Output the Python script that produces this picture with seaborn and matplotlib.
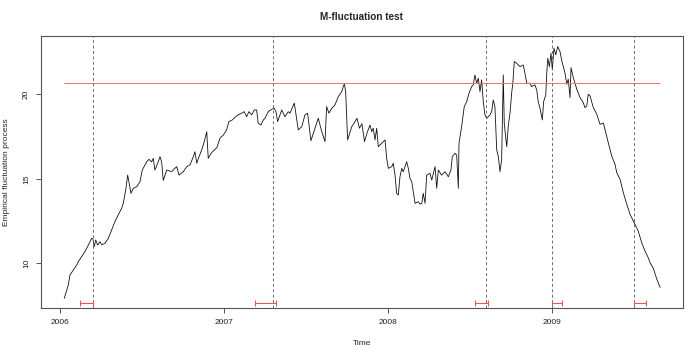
import numpy as np
import pandas as pd
import matplotlib
matplotlib.use("Agg")
import matplotlib.pyplot as plt
import seaborn as sns

# empirical fluctuation process
time = [
    2006.026, 2006.051, 2006.061, 2006.081, 2006.102, 2006.112, 2006.132, 2006.152, 2006.173, 2006.193,
    2006.201, 2006.209, 2006.218, 2006.230, 2006.244, 2006.254, 2006.274, 2006.295, 2006.315, 2006.335,
    2006.355, 2006.376, 2006.386, 2006.401, 2006.413, 2006.433, 2006.447, 2006.468, 2006.488, 2006.502,
    2006.529, 2006.543, 2006.559, 2006.569, 2006.579, 2006.596, 2006.610, 2006.620, 2006.630, 2006.651,
    2006.681, 2006.701, 2006.712, 2006.726, 2006.752, 2006.773, 2006.793, 2006.813, 2006.823, 2006.834,
    2006.848, 2006.864, 2006.880, 2006.895, 2006.904, 2006.921, 2006.941, 2006.957, 2006.976, 2006.996,
    2007.016, 2007.030, 2007.051, 2007.071, 2007.087, 2007.108, 2007.124, 2007.138, 2007.152, 2007.169,
    2007.185, 2007.199, 2007.209, 2007.226, 2007.240, 2007.250, 2007.270, 2007.291, 2007.307, 2007.317,
    2007.327, 2007.352, 2007.372, 2007.392, 2007.402, 2007.429, 2007.453, 2007.474, 2007.494, 2007.510,
    2007.530, 2007.555, 2007.575, 2007.596, 2007.616, 2007.626, 2007.640, 2007.657, 2007.677, 2007.697,
    2007.718, 2007.727, 2007.734, 2007.742, 2007.754, 2007.779, 2007.799, 2007.811, 2007.826, 2007.841,
    2007.857, 2007.872, 2007.890, 2007.901, 2007.910, 2007.921, 2007.931, 2007.941, 2007.962, 2007.982,
    2007.992, 2008.002, 2008.023, 2008.032, 2008.043, 2008.053, 2008.063, 2008.073, 2008.084, 2008.093,
    2008.104, 2008.114, 2008.124, 2008.134, 2008.145, 2008.154, 2008.165, 2008.185, 2008.195, 2008.206,
    2008.215, 2008.226, 2008.236, 2008.256, 2008.267, 2008.287, 2008.297, 2008.307, 2008.327, 2008.348,
    2008.368, 2008.384, 2008.392, 2008.409, 2008.419, 2008.429, 2008.433, 2008.449, 2008.465, 2008.480,
    2008.494, 2008.510, 2008.520, 2008.530, 2008.541, 2008.551, 2008.561, 2008.571, 2008.581, 2008.591,
    2008.602, 2008.622, 2008.632, 2008.642, 2008.652, 2008.663, 2008.673, 2008.683, 2008.693, 2008.703,
    2008.709, 2008.713, 2008.724, 2008.734, 2008.744, 2008.754, 2008.762, 2008.770, 2008.785, 2008.805,
    2008.825, 2008.835, 2008.846, 2008.866, 2008.876, 2008.896, 2008.907, 2008.916, 2008.927, 2008.941,
    2008.949, 2008.962, 2008.968, 2008.974, 2008.984, 2008.994, 2009.002, 2009.012, 2009.023, 2009.035,
    2009.049, 2009.059, 2009.079, 2009.090, 2009.099, 2009.110, 2009.116, 2009.130, 2009.151, 2009.171,
    2009.191, 2009.201, 2009.212, 2009.221, 2009.232, 2009.252, 2009.273, 2009.293, 2009.313, 2009.323,
    2009.343, 2009.364, 2009.384, 2009.395, 2009.415, 2009.435, 2009.456, 2009.476, 2009.486, 2009.506,
    2009.526, 2009.547, 2009.567, 2009.584, 2009.598, 2009.618, 2009.638, 2009.659,
]
fluct = [
    7.93, 8.72, 9.31, 9.60, 9.90, 10.10, 10.40, 10.69, 11.08, 11.48,
    11.45, 10.98, 11.38, 11.08, 11.28, 11.10, 11.18, 11.48, 11.97, 12.46,
    12.86, 13.25, 13.55, 14.34, 15.22, 14.14, 14.44, 14.53, 14.83, 15.52,
    16.01, 16.15, 16.00, 16.21, 15.52, 15.92, 16.31, 16.00, 14.90, 15.52,
    15.42, 15.62, 15.72, 15.22, 15.42, 15.72, 15.82, 16.31, 16.60, 15.92,
    16.31, 16.70, 17.20, 17.79, 16.21, 16.51, 16.70, 16.85, 17.40, 17.59,
    17.89, 18.38, 18.48, 18.67, 18.78, 18.88, 18.97, 18.67, 18.97, 18.78,
    19.07, 19.07, 18.28, 18.18, 18.48, 18.58, 18.97, 19.11, 19.17, 18.97,
    18.38, 19.07, 18.67, 18.97, 18.88, 19.47, 17.89, 18.08, 18.78, 18.88,
    17.25, 17.99, 18.58, 17.79, 17.20, 19.27, 18.88, 19.17, 19.37, 19.86,
    20.15, 20.45, 20.61, 20.15, 17.30, 18.08, 18.38, 18.58, 17.99, 18.25,
    17.20, 17.70, 18.18, 17.79, 17.99, 17.30, 17.99, 16.90, 17.10, 17.30,
    16.21, 15.62, 15.72, 15.92, 15.22, 14.14, 14.04, 15.12, 15.62, 15.42,
    15.72, 16.01, 15.62, 15.03, 14.83, 14.24, 13.55, 13.65, 13.50, 13.55,
    14.14, 13.55, 15.22, 15.32, 14.93, 15.72, 14.44, 15.52, 15.22, 15.42,
    15.12, 15.52, 16.31, 16.51, 16.40, 14.44, 17.10, 18.08, 19.27, 19.56,
    20.06, 20.45, 20.55, 21.14, 20.65, 20.95, 20.15, 20.85, 19.56, 18.78,
    18.58, 18.78, 18.97, 19.66, 19.27, 16.70, 16.31, 15.42, 16.11, 21.14,
    18.28, 17.89, 16.90, 18.18, 18.88, 20.06, 20.75, 21.93, 21.83, 21.63,
    21.73, 21.24, 20.65, 20.65, 20.45, 20.55, 20.25, 19.56, 19.17, 18.48,
    19.56, 19.96, 21.24, 22.13, 21.63, 22.43, 21.44, 22.72, 22.33, 22.82,
    22.52, 22.00, 21.26, 20.59, 20.89, 19.80, 21.57, 20.98, 20.30, 19.80,
    19.50, 19.21, 19.30, 20.00, 19.90, 19.21, 18.82, 18.22, 18.30, 17.93,
    17.14, 16.35, 15.86, 15.36, 14.97, 14.18, 13.49, 12.90, 12.70, 12.30,
    11.90, 11.22, 10.73, 10.40, 10.04, 9.70, 9.10, 8.58,
]
assert len(time) == len(fluct)

boundary = 20.65
breaks = [2006.203, 2007.300, 2008.600, 2009.000, 2009.500]
ci_lower = [2006.120, 2007.190, 2008.530, 2009.000, 2009.500]
ci_upper = [2006.203, 2007.320, 2008.610, 2009.060, 2009.575]
ci_level = 7.64
xticks = [2006, 2007, 2008, 2009]
yticks = [10, 15, 20]

sns.set_style("ticks")
plt.rcParams['font.family'] = ['Liberation Sans', 'DejaVu Sans']

df = pd.DataFrame({"Time": time, "process": fluct})

fig = plt.figure(figsize=(7, 3.52), dpi=100)
ax = fig.add_axes([0.058, 0.125, 0.918, 0.773])

sns.lineplot(data=df, x="Time", y="process", color="#111111", linewidth=0.6,
             estimator=None, sort=False, ax=ax)
ax.hlines(boundary, min(time), max(time), color="#ee6f6f", linewidth=0.7)
for b in breaks:
    ax.axvline(b, color="#555555", linewidth=0.6, linestyle=(0, (3.5, 3)))

lo = np.array(breaks) - np.array(ci_lower)
hi = np.array(ci_upper) - np.array(breaks)
ax.errorbar(breaks, [ci_level] * len(breaks), xerr=[lo, hi], fmt="none",
            ecolor="#ee5555", elinewidth=0.8, capsize=2.2, capthick=0.8)

ax.set_xlim(2005.882, 2009.80)
ax.set_ylim(7.36, 23.45)
ax.set_xticks(xticks)
ax.set_yticks(yticks)
ax.set_xticklabels([str(t) for t in xticks])
ax.set_yticklabels([str(t) for t in yticks])
ax.set_xlabel("")
ax.set_ylabel("")
for s in ax.spines.values():
    s.set_visible(True)
    s.set_color("#555555")
    s.set_linewidth(0.8)
ax.tick_params(direction="out", length=3.6, width=0.7, color="#555555",
               labelsize=6, pad=4, labelcolor="#222222")
plt.setp(ax.get_yticklabels(), rotation=90, va="center")

fig.text(361.9 / 700, 1 - 16.5 / 352, "M-fluctuation test", ha="center", va="center",
         fontsize=7.2, fontweight="bold")
fig.text(361.9 / 700, 1 - 343.5 / 352, "Time", ha="center", va="center", fontsize=6)
fig.text(6.7 / 700, 1 - 172 / 352, "Empirical fluctuation process", ha="center", va="center",
         rotation=90, fontsize=6)

fig.savefig("out.png", dpi=100, facecolor="white")
